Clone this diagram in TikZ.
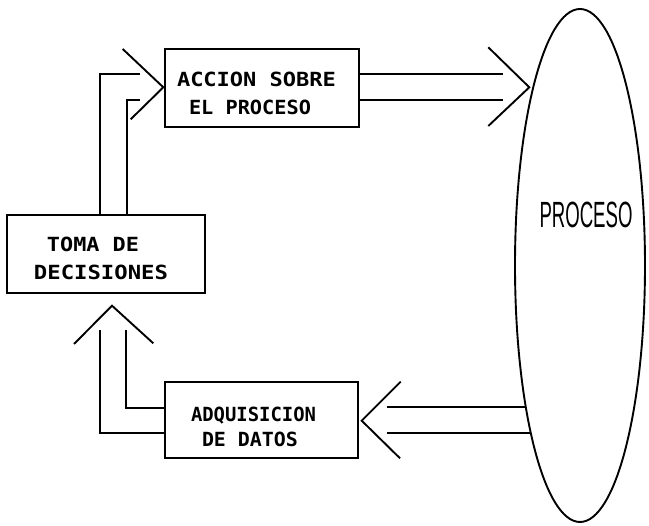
\documentclass[tikz,border=0pt]{standalone}
\usepackage{fontspec}
\newfontfamily\plotfont{DejaVu Sans Mono}
\newfontfamily\bigfont{Liberation Sans}
\usetikzlibrary{shapes.geometric}
\newcommand\fitto[2]{\setbox0\hbox{#2}\pgfmathsetmacro\fitscale{#1/\the\wd0}\scalebox{\fitscale}[1]{\box0}}
\tikzset{
  box/.style={draw, line width=1.9pt, inner sep=0pt},
  lbl/.style={anchor=base, inner sep=0pt, font={\plotfont\bfseries\fontsize{19.5}{19.5}\selectfont}},
  conn/.style={line width=1.9pt, line join=miter, line cap=butt},
}
\begin{document}
\begin{tikzpicture}[x=1pt, y=-1pt]
\useasboundingbox (0,0) rectangle (649,526);
% boxes
\node[box, minimum width=194.3pt, minimum height=77.7pt] (accion) at (262.15,87.85) {};
\node[box, minimum width=197.7pt, minimum height=77.7pt] (toma) at (106.15,253.85) {};
\node[box, minimum width=193.3pt, minimum height=76.6pt] (adq) at (261.65,420) {};
\node[draw, ellipse, line width=1.9pt, inner sep=0pt, minimum width=130pt, minimum height=513pt] (proc) at (580,265.5) {};
% labels
\node[lbl] (a1) at (256.5,87) {\fitto{159pt}{ACCION SOBRE}};
\node[lbl] (a2) at (250,115) {\fitto{122pt}{EL PROCESO}};
\node[lbl] (t1) at (93,252) {\fitto{92pt}{TOMA DE}};
\node[lbl] (t2) at (101,280) {\fitto{134pt}{DECISIONES}};
\node[lbl] (d1) at (253.5,422) {\fitto{125pt}{ADQUISICION}};
\node[lbl] (d2) at (250,447) {\fitto{96pt}{DE DATOS}};
\node[anchor=base, inner sep=0pt, font={\bigfont\fontsize{36.5}{36.5}\selectfont}] (p1) at (586,228) {\fitto{93pt}{PROCESO}};
% connector toma -> accion
\coordinate (ta0) at (100,215); \coordinate (ta1) at (140,74);
\coordinate (tb0) at (127,215); \coordinate (tb1) at (140,100);
\draw[conn] (ta0) |- (ta1);
\draw[conn] (tb0) |- (tb1);
\coordinate (h1a) at (122.7,49); \coordinate (h1t) at (163.3,87.3); \coordinate (h1b) at (130.7,119.3);
\draw[conn] (h1a) -- (h1t) -- (h1b);
% connector accion -> proceso
\coordinate (ap1) at (503,74); \coordinate (ap2) at (503,100);
\draw[conn] (accion.east |- ap1) -- (ap1);
\draw[conn] (accion.east |- ap2) -- (ap2);
\coordinate (h2a) at (488.3,47.3); \coordinate (h2t) at (529.3,87.3); \coordinate (h2b) at (488.3,126);
\draw[conn] (h2a) -- (h2t) -- (h2b);
% connector proceso -> adquisicion
\coordinate (pa0) at (525.7,406.7); \coordinate (pa1) at (387.3,406.7);
\coordinate (pb0) at (530.7,432.7); \coordinate (pb1) at (387.3,432.7);
\draw[conn] (pa0) -- (pa1);
\draw[conn] (pb0) -- (pb1);
\coordinate (h3a) at (400.7,381.7); \coordinate (h3t) at (361.7,420.7); \coordinate (h3b) at (400,458.3);
\draw[conn] (h3a) -- (h3t) -- (h3b);
% connector adquisicion -> toma
\coordinate (da0) at (165,432.7); \coordinate (da1) at (100,330);
\coordinate (db0) at (165,408.3); \coordinate (db1) at (126,330);
\draw[conn] (da0) -| (da1);
\draw[conn] (db0) -| (db1);
\coordinate (h4a) at (74,344); \coordinate (h4t) at (112,305.7); \coordinate (h4b) at (153.3,343.3);
\draw[conn] (h4a) -- (h4t) -- (h4b);
\end{tikzpicture}
\end{document}
